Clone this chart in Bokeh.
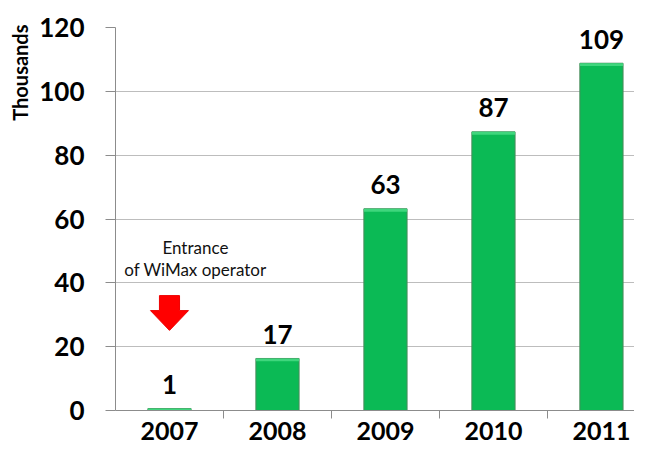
import numpy as np
from bokeh.plotting import figure
from bokeh.models import Range1d, FixedTicker, Label, ColumnDataSource, Title
from bokeh.core.properties import value
from bokeh.embed import file_html
from bokeh.resources import INLINE

years = ["2007", "2008", "2009", "2010", "2011"]
subscribers = [0.6, 16.3, 63.2, 87.3, 108.8]   # thousands
bar_labels = ["1", "17", "63", "87", "109"]
y_ticks = [0, 20, 40, 60, 80, 100, 120]
note_lines = ["Entrance", "of WiMax operator"]

FONT = "Lato"
x = np.arange(1, len(years) + 1)

p = figure(width=634, height=447, output_backend="svg", toolbar_location=None,
           x_range=Range1d(0.5, 5.306), y_range=Range1d(0, 120),
           min_border_left=115, min_border_right=0, min_border_top=27,
           min_border_bottom=37)
p.outline_line_color = None
p.background_fill_color = "white"

# rotated axis title at top-left
p.add_layout(Title(text="Thousands", align="right", text_font=FONT,
                   text_font_style="bold", text_font_size="20px",
                   text_color="black", offset=-3), "left")

# grid
p.xgrid.grid_line_color = None
p.ygrid.grid_line_color = "#bdbdbd"
p.ygrid.grid_line_width = 1
p.ygrid.ticker = FixedTicker(ticks=y_ticks)

# y axis
p.yaxis.ticker = FixedTicker(ticks=y_ticks)
p.yaxis.axis_line_color = "#8c8c8c"
p.yaxis.major_tick_line_color = "#8c8c8c"
p.yaxis.major_tick_out = 10
p.yaxis.major_tick_in = 0
p.yaxis.minor_tick_line_color = None
p.yaxis.major_label_text_font = FONT
p.yaxis.major_label_text_font_style = "bold"
p.yaxis.major_label_text_font_size = "26px"
p.yaxis.major_label_text_color = "black"
p.yaxis.major_label_standoff = 21

# x axis: labels at centers, ticks at category boundaries
centers = list(x)
bounds = [c + 0.5 for c in centers[:-1]]
p.xaxis.ticker = FixedTicker(ticks=centers, minor_ticks=bounds)
p.xaxis.major_label_overrides = {int(c): y for c, y in zip(centers, years)}
p.xaxis.axis_line_color = "#8c8c8c"
p.xaxis.major_tick_line_color = None
p.xaxis.minor_tick_line_color = "#8c8c8c"
p.xaxis.minor_tick_out = 8
p.xaxis.minor_tick_in = 0
p.xaxis.major_label_text_font = FONT
p.xaxis.major_label_text_font_style = "bold"
p.xaxis.major_label_text_font_size = "25px"
p.xaxis.major_label_text_color = "black"
p.xaxis.major_label_standoff = 3

tops = np.array(subscribers)
src = ColumnDataSource(dict(x=x, top=tops, label=bar_labels,
                            bevel=np.maximum(tops - 0.9, 0)))

# bars
p.vbar(x="x", top="top", width=0.4, bottom=0, source=src,
       fill_color="#0bba55", line_color="#4a8a5c", line_width=1)
# light top bevel
p.vbar(x="x", top="top", bottom="bevel", width=0.4, source=src,
       fill_color="#3fd67d", line_color=None)

# value labels
p.text(x="x", y="top", text="label", source=src, text_align="center",
       text_baseline="alphabetic", y_offset=-24,
       text_font=value(FONT), text_font_style="bold", text_font_size="26px",
       text_color="black")

# note text
note_x = 1.24
p.add_layout(Label(x=note_x, y=51.1, text=note_lines[0], text_align="center",
                   text_baseline="middle", text_font=FONT, text_font_size="17px",
                   text_color="#111111"))
p.add_layout(Label(x=note_x, y=44.2, text=note_lines[1], text_align="center",
                   text_baseline="middle", text_font=FONT, text_font_size="17px",
                   text_color="#111111"))

# red arrow (annotation shape around 2007)
ax, tip, head_base, tail = 1.0, 25.1, 31.3, 36.0
bw, hw = 0.093, 0.176
p.patch([ax - bw, ax + bw, ax + bw, ax + hw, ax, ax - hw, ax - bw],
        [tail, tail, head_base, head_base, tip, head_base, head_base],
        fill_color="#ff0000", line_color="#ee0000")

open("out.html", "w").write(file_html(p, INLINE))
